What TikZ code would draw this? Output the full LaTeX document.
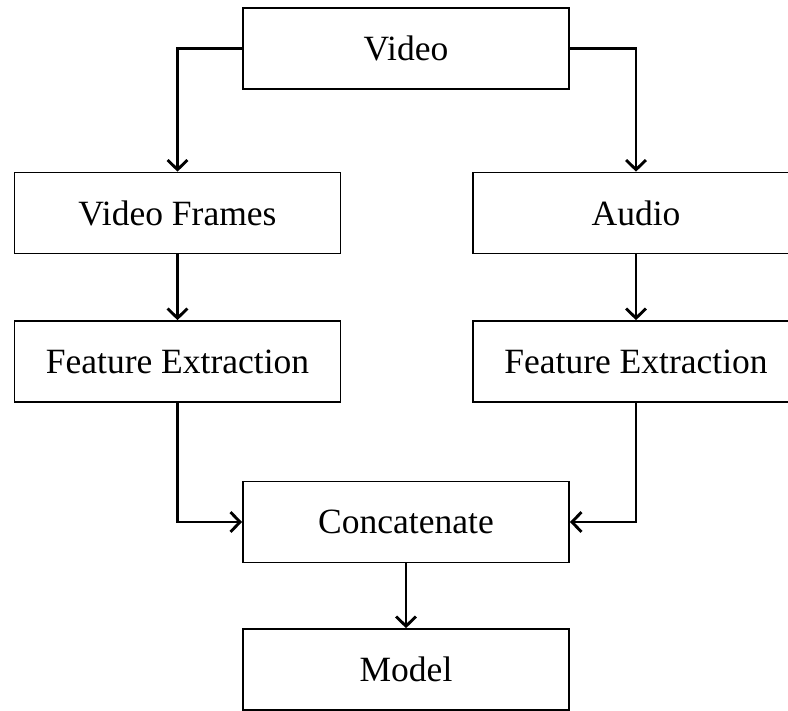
\documentclass[tikz,border=0pt]{standalone}
\usepackage{fontspec}
\setmainfont{Liberation Serif}
\usetikzlibrary{arrows.meta}
\begin{document}
\begin{tikzpicture}[x=0.3125pt,y=-0.3125pt,
  box/.style={draw,line width=0.55pt,minimum width=101.9pt,minimum height=25.3pt,inner sep=0pt,
    font=\fontsize{11.1pt}{13pt}\selectfont},
  link/.style={line width=0.9pt,-{Straight Barb[length=3pt,width=6.2pt]}}]
\useasboundingbox (0,0) rectangle (788,710);
% processing stages
\node[box] (video)  at (406,48.5)  {Video};
\node[box] (frames) at (177.5,213) {Video Frames};
\node[box] (audio)  at (636,213)   {Audio};
\node[box] (featL)  at (177.5,361.5) {Feature Extraction};
\node[box] (featR)  at (636,361.5) {Feature Extraction};
\node[box] (concat) at (406,522)   {Concatenate};
\node[box] (model)  at (406,669.5) {Model};
% data flow
\draw[link] (video.west) -| (frames.north);
\draw[link] (video.east) -| (audio.north);
\draw[link] (frames) -- (featL);
\draw[link] (audio) -- (featR);
\draw[link] (featL.south) |- (concat.west);
\draw[link] (featR.south) |- (concat.east);
\draw[link] (concat) -- (model);
\end{tikzpicture}
\end{document}
